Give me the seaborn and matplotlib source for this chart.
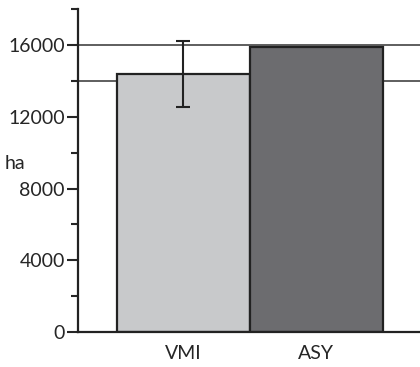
import numpy as np
import pandas as pd
import matplotlib.pyplot as plt
import seaborn as sns

# values
groups = ["VMI", "ASY"]
area_ha = [14400, 15900]
err_ha = [1850, 0]
colors = ["#c8c9cb", "#6b6c70"]
ref_lines = [16000, 14000]

sns.set_style("white")
plt.rcParams['font.family'] = ['Lato', 'DejaVu Sans']

df = pd.DataFrame({"group": groups, "ha": area_ha})

fig = plt.figure(figsize=(4.2, 3.67), dpi=100)
ax = fig.add_axes([0.186, 0.095, 0.814, 0.88])

# reference lines behind the bars
for y in ref_lines:
    ax.axhline(y, color="#333333", lw=1.1, zorder=0)

sns.barplot(data=df, x="group", y="ha", hue="group", palette=colors,
            width=1.0, edgecolor="#222222", linewidth=1.6, legend=False,
            ax=ax, zorder=2)

ax.errorbar(0, area_ha[0], yerr=err_ha[0], fmt="none", ecolor="#222222",
            elinewidth=1.5, capsize=4.7, capthick=1.5, zorder=3)

ax.set_xlim(-0.79, 1.78)
ax.set_ylim(0, 18000)
ax.set_yticks([0, 4000, 8000, 12000, 16000])
ax.set_yticks([2000, 6000, 10000, 14000, 18000], minor=True)
ax.tick_params(axis="y", which="major", length=8, width=1.5, labelsize=14,
               left=True, pad=1.5)
ax.tick_params(axis="y", which="minor", length=5, width=1.5, left=True)
ax.tick_params(axis="x", length=0, labelsize=14, pad=9)

for s in ["top", "right"]:
    ax.spines[s].set_visible(False)
for s in ["left", "bottom"]:
    ax.spines[s].set_linewidth(1.6)
    ax.spines[s].set_color("#222222")

ax.set_xlabel("")
ax.set_ylabel("")
fig.text(0.012, 0.555, "ha", fontsize=14, ha="left", va="center")

fig.savefig("out.png", dpi=100)
